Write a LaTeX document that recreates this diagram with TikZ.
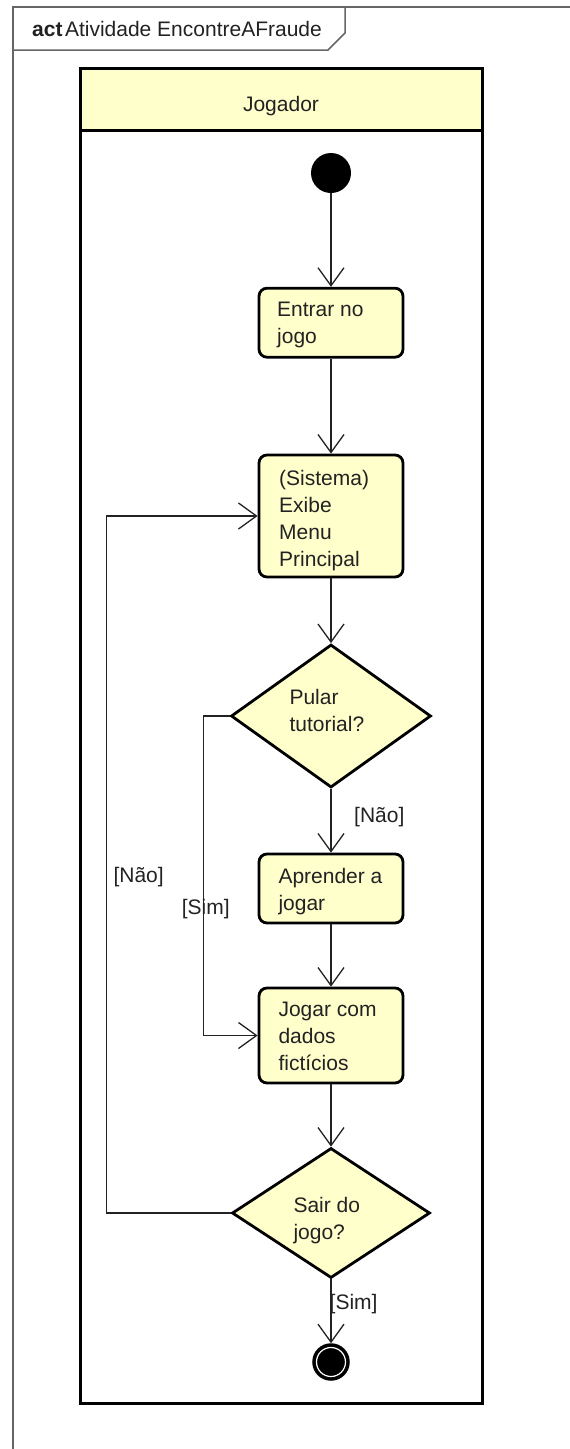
\documentclass[tikz,border=0pt]{standalone}
\usepackage{fontspec}
\setmainfont{Liberation Sans}
\usetikzlibrary{arrows.meta,shapes.geometric}
\definecolor{lanefill}{HTML}{FFFFCC}
\definecolor{framegray}{HTML}{666666}
\definecolor{ink}{HTML}{222222}
\begin{document}
\begin{tikzpicture}[x=1pt,y=-1pt,
  every node/.style={font=\fontsize{21}{26.7}\selectfont, text=ink},
  action/.style={draw=black, line width=2.8pt, fill=lanefill, rounded corners=8pt,
                 minimum width=144pt, inner sep=0pt},
  decision/.style={diamond, draw=black, line width=2.8pt, fill=lanefill, inner sep=0pt},
  caption/.style={anchor=base west, align=left, inner sep=0pt},
  guard/.style={anchor=base west, inner sep=0pt},
  flow/.style={draw=ink, line width=1.3pt, -{Straight Barb[length=18pt,width=26pt]}}]

\useasboundingbox (0,0) rectangle (570,1449);

% diagram frame with its name tab
\draw[framegray, line width=1.5pt] (570,7) -- (13,7) -- (13,1449);
\draw[framegray, line width=1.5pt] (13,50) -- (328,50) -- (345,33) -- (345,7);
\node[anchor=base west, inner sep=0pt] (title) at (32,36.7)
  {\textbf{act}\hspace{2.5pt}Atividade EncontreAFraude};

% swimlane
\path[fill=lanefill] (80,68) rectangle (482,130);
\draw[line width=3pt] (80,68) rectangle (482,1403);
\draw[line width=3pt] (80,130) -- (482,130);
\node[anchor=base, inner sep=0pt] (lane) at (281,111.7) {Jogador};

% activity nodes (multi-line captions sit on the baseline of their last line)
\node[circle, fill=black, minimum size=40pt, inner sep=0pt] (start) at (331,173) {};

\node[action, minimum height=69pt] (entrar) at (331,322.7) {};
\node[caption] (entrar-txt) at (277,343) {Entrar no\\jogo};

\node[action, minimum height=122pt] (menu) at (331,516) {};
\node[caption] (menu-txt) at (279,566) {(Sistema)\\Exibe\\Menu\\Principal};

\node[decision, minimum width=200pt, minimum height=143pt] (pular) at (331,716) {};
\node[caption] (pular-txt) at (289.3,731.5) {Pular\\tutorial?};

\node[action, minimum height=69pt] (aprender) at (331,888.5) {};
\node[caption] (aprender-txt) at (278.3,910) {Aprender a\\jogar};

\node[action, minimum height=95pt] (jogar) at (331,1035.5) {};
\node[caption] (jogar-txt) at (278.3,1070) {Jogar com\\dados\\fictícios};

\node[decision, minimum width=198pt, minimum height=130pt] (sair) at (331,1213) {};
\node[caption] (sair-txt) at (293.3,1239.3) {Sair do\\jogo?};

\node[circle, fill=black, draw=black, line width=2.5pt, minimum size=35pt, inner sep=0pt]
  (end) at (331,1362) {};
\draw[white, line width=1.2pt] (end.center) circle (14.5pt);

% control flows
\draw[flow] (start.south) -- (entrar.north);
\draw[flow] (entrar.south) -- (menu.north);
\draw[flow] (menu.south) -- (pular.north);
\draw[flow] (pular.south) -- (aprender.north);
\node[guard] (g-nao1) at (354,822.7) {[Não]};
\draw[flow] (aprender.south) -- (jogar.north);
\draw[flow] (pular.west) -- ++(-26,0) |- (jogar.west);
\node[guard] (g-sim1) at (181.7,914.3) {[Sim]};
\draw[flow] (jogar.south) -- (sair.north);
\draw[flow] (sair.west) -- ++(-124,0) |- (menu.west);
\node[guard] (g-nao2) at (113.3,882.7) {[Não]};
\draw[flow] (sair.south) -- (end.north);
\node[guard] (g-sim2) at (329.5,1309) {[Sim]};
\end{tikzpicture}
\end{document}
